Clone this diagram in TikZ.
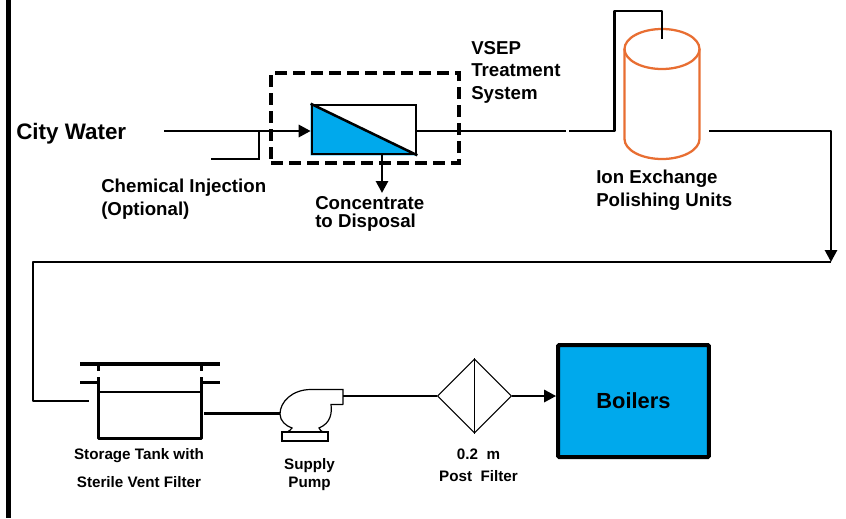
\documentclass[tikz,border=0pt]{standalone}
\usepackage{fontspec}
\setmainfont{Liberation Sans}
\usetikzlibrary{calc}
\usetikzlibrary{positioning}
\usetikzlibrary{arrows.meta}
\usetikzlibrary{shapes.geometric}
\definecolor{unitblue}{RGB}{0,169,236}
\definecolor{ionorange}{RGB}{232,110,50}
\tikzset{
label-text/.style={font=\bfseries\fontsize{14}{17}\selectfont,align=left,inner sep=0pt},
small-text/.style={font=\bfseries\fontsize{11.4}{21}\selectfont,align=center,inner sep=0pt},
pipe/.style={black,line width=2.1pt,line join=round},
thin-pipe/.style={black,line width=0.8pt},
flow/.style={pipe,-{Triangle[length=9pt,width=9pt]}}
}

\begin{document}
\begin{tikzpicture}[x=0.75pt,y=-0.75pt]
    \useasboundingbox (0,0) rectangle (846,518);
    \tikzset{
      membrane/.style={draw,black,line width=1.9pt,minimum width=78pt,minimum height=36.75pt,inner sep=0pt},
      boiler/.style={draw,black,line width=3pt,fill=unitblue,rounded corners=0.8pt,minimum width=113pt,minimum height=84pt,inner sep=0pt},
      filter/.style={draw,black,line width=0.8pt,diamond,aspect=1,minimum size=55.5pt,inner sep=0pt},
      tank-wall/.style={black,line width=2.6pt,line join=round},
      ion-line/.style={ionorange,line width=1.7pt}
    }
    % frame bar
    \coordinate (bar-t) at (8.5,0);
    \coordinate (bar-b) at (8.5,518);
    \draw[black,line width=3.8pt] (bar-t) -- (bar-b);
    % vsep unit
    \node[membrane](mem) at (364,129.5) {};
    \fill[unitblue] (mem.north west) -- (mem.south east) -- (mem.south west) -- cycle;
    \node[membrane](mem-o) at (364,129.5) {};
    \draw[black,line width=1.9pt] (mem-o.north west) -- (mem-o.south east);
    \node[draw,black,dashed,line width=2.3pt,dash pattern=on 9pt off 4.5pt,minimum width=141pt,minimum height=67.5pt,inner sep=0pt](vsep) at (365,118) {};
    % ion exchange
    \coordinate (ion-c) at (662,49);
    \coordinate (ion-w) at (624.5,49);
    \coordinate (ion-e) at (699.5,49);
    \draw[ion-line] (ion-c) ellipse (37.5 and 20);
    \draw[ion-line] (ion-w) -- ++(0,90) arc[start angle=180,end angle=0,x radius=37.5,y radius=20] -- (ion-e);
    % tank
    \coordinate (plate-l) at (80,364);
    \coordinate (plate-r) at (220,364);
    \draw[tank-wall,line width=3.2pt] (plate-l) -- (plate-r);
    \draw[tank-wall] (98.5,377) -- (98.5,438.5) -- (201.5,438.5) -- (201.5,377);
    \draw[tank-wall] (98.5,366) -- (98.5,371);
    \draw[tank-wall] (201.5,366) -- (201.5,371);
    \draw[tank-wall] (80,382.5) -- (98.5,382.5);
    \draw[tank-wall] (201.5,382.5) -- (220,382.5);
    \draw[black,line width=1.2pt] (98.5,392) -- (201.5,392);
    % pump
    \draw[thin-pipe,line width=0.9pt] (343,404.5) -- (343,389.5) -- (311,389.5)
      .. controls (292,389.5) and (280,402) .. (280,414)
      .. controls (280,421) and (286,426) .. (292,428)
      .. controls (291,430) and (289,431) .. (287,432);
    \draw[thin-pipe,line width=0.9pt] (343,404.5) -- (331,404.5)
      .. controls (332,413) and (331,423) .. (319,428)
      .. controls (320,430) and (321,431) .. (323,432);
    \node[draw,black,line width=0.9pt,minimum width=34.5pt,minimum height=6.75pt,inner sep=0pt](pump-base) at (305,436.5) {};
    % post filter and boilers
    \node[filter](post) at (474.5,396) {};
    \draw[thin-pipe] (post.north) -- (post.south);
    \node[boiler,font=\bfseries\fontsize{16.4}{18}\selectfont](boil) at (633.5,401) {Boilers};
    % pipe end points
    \coordinate (city-s) at (164,131);
    \coordinate (inj-s) at (211,159);
    \coordinate (inj-k) at (259,159);
    \coordinate (inj-e) at (259,131);
    \coordinate (disp) at (382,193);
    \coordinate (mem-b) at (382,154);
    \coordinate (mem-r) at (416,131);
    \coordinate (gap-l) at (566,131);
    \coordinate (gap-r) at (569,131);
    \coordinate (riser-b) at (614.5,131);
    \coordinate (riser-t) at (614.5,11);
    \coordinate (dip-t) at (662,11);
    \coordinate (dip-b) at (662,39);
    \coordinate (ion-o) at (709,131);
    \coordinate (drop-t) at (831,131);
    \coordinate (drop-b) at (831,262);
    \coordinate (ret-r) at (831,262);
    \coordinate (ret-l) at (33,262);
    \coordinate (ret-b) at (33,401);
    \coordinate (tank-i) at (89,401);
    \coordinate (tank-o) at (204,413.5);
    \coordinate (pump-i) at (280,413.5);
    \coordinate (pump-o) at (343,396);
    %
    \draw[flow] (mem-b) -- (disp);
    \draw[flow] (ion-o) -- (drop-t) -- (drop-b);
    \draw[pipe] (mem-r) -- (gap-l);
    \draw[pipe] (gap-r) -- (riser-b) -- (riser-t) -- (dip-t) -- (dip-b);
    \draw[pipe] (ret-r) -- (ret-l) -- (ret-b) -- (tank-i);
    \foreach \u / \v in {tank-o/pump-i,pump-o/post.west}
      \draw[pipe] (\u) -- (\v);
    \draw[flow] (city-s) -- (mem-o.west |- city-s);
    \draw[flow] (post.east) -- (boil.west |- post.east);
    \draw[thin-pipe] (inj-s) -- (inj-k) -- (inj-e);
    % labels
    \node[label-text,font=\bfseries\fontsize{16.8}{18}\selectfont,anchor=west](city) at (16,134) {City Water};
    \node[label-text,anchor=north west](chem) at (101,179) {Chemical Injection\\(Optional)};
    \node[label-text,font=\bfseries\fontsize{14}{13.5}\selectfont,anchor=north west](conc) at (315,196) {Concentrate\\to Disposal};
    \node[label-text,anchor=north west](vsep-l) at (471,41) {VSEP\\Treatment\\System};
    \node[label-text,anchor=north west](ion-l) at (596,170) {Ion Exchange\\Polishing Units};
    \node[small-text,anchor=north](tank-l) at (139,448) {Storage Tank with\\Sterile Vent Filter};
    \node[small-text,font=\bfseries\fontsize{11.4}{13.5}\selectfont,anchor=north](pump-l) at (309.5,458) {Supply\\Pump};
    \node[small-text,font=\bfseries\fontsize{11.4}{16.5}\selectfont,anchor=north](post-l) at (478.5,448.5) {0.2~~m\\Post~~Filter};
\end{tikzpicture}
\end{document}
